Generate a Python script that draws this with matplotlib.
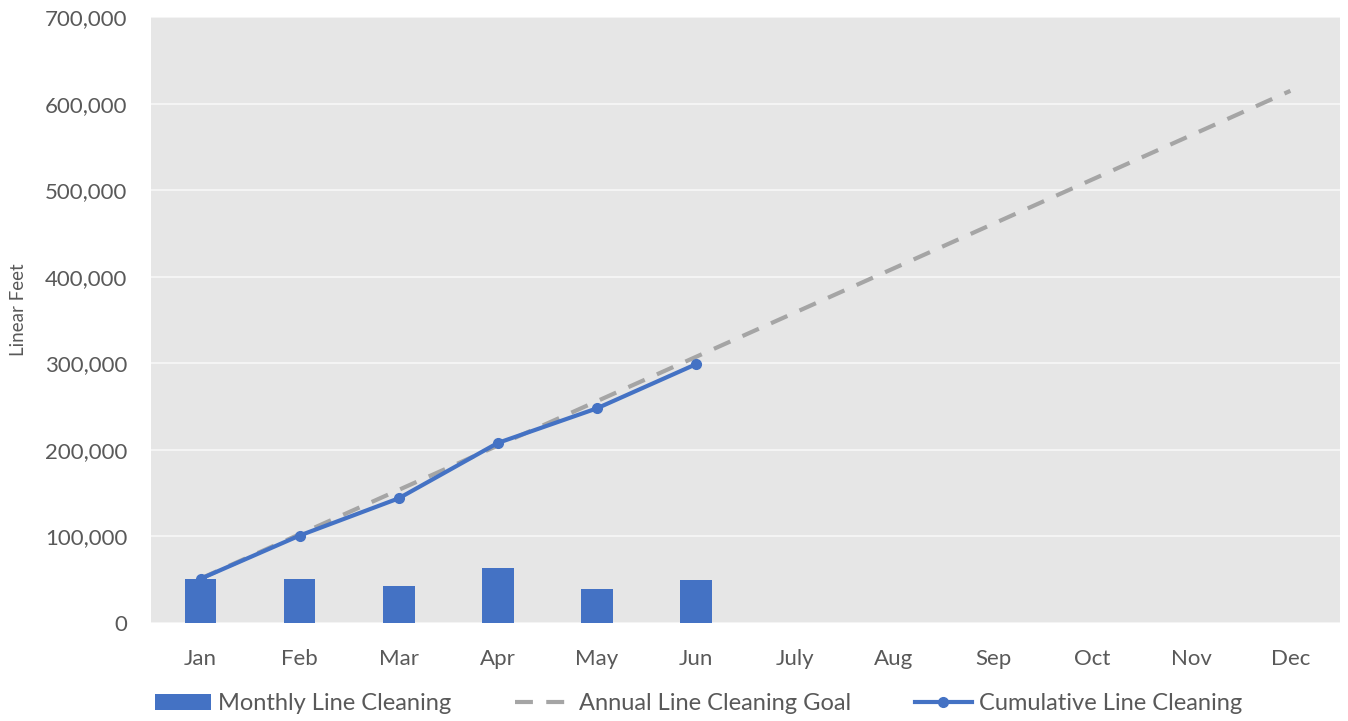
import matplotlib.pyplot as plt
from matplotlib.ticker import FuncFormatter

months = ["Jan", "Feb", "Mar", "Apr", "May", "Jun", "July", "Aug", "Sep", "Oct", "Nov", "Dec"]
monthly = [50500, 51000, 43000, 63500, 39000, 49500]
cumulative = [51000, 101000, 144000, 208000, 248000, 299000]
goal = [51250, 102500, 153750, 205000, 256250, 307500, 358750, 410000, 461250, 512500, 563750, 615000]

plt.rcParams['font.family'] = ['Lato', 'DejaVu Sans']
grey_text = "#595959"
blue = "#4472C4"

fig = plt.figure(figsize=(13.48, 7.21), dpi=100)
ax = fig.add_axes([0.112, 0.136, 0.882, 0.840])
ax.set_facecolor("#e6e6e6")

x = list(range(len(months)))
bars = ax.bar(x[:len(monthly)], monthly, width=0.32, color=blue, label="Monthly Line Cleaning", zorder=2)
g_line, = ax.plot(x, goal, color="#a5a5a5", linestyle=(0, (4.3, 3.2)), linewidth=3,
                  label="Annual Line Cleaning Goal", zorder=3)
c_line, = ax.plot(x[:len(cumulative)], cumulative, color=blue, linewidth=3, marker="o", markersize=7,
                  label="Cumulative Line Cleaning", zorder=4)

ax.set_xlim(-0.5, 11.5)
ax.set_ylim(0, 700000)
ax.set_yticks(range(0, 700001, 100000))
ax.yaxis.set_major_formatter(FuncFormatter(lambda v, p: f"{int(v):,}"))
ax.set_xticks(x)
ax.set_xticklabels(months)
ax.grid(axis="y", color="#f4f4f4", linewidth=1.5, zorder=0)
ax.set_axisbelow(True)
for s in ax.spines.values():
    s.set_visible(False)
ax.tick_params(length=0, labelsize=16, colors=grey_text)
ax.tick_params(axis="x", pad=19)
ax.tick_params(axis="y", pad=17)
ax.set_ylabel("Linear Feet", fontsize=13.5, color=grey_text)
ax.yaxis.set_label_coords(-0.104, 0.518)

fig.legend(handles=[bars, g_line, c_line], loc="center", bbox_to_anchor=(0.518, 0.024), ncol=3,
           frameon=False, fontsize=17, labelcolor=grey_text, handlelength=2.4,
           columnspacing=2.7, handletextpad=0.3)

fig.savefig("out.png", dpi=100)
